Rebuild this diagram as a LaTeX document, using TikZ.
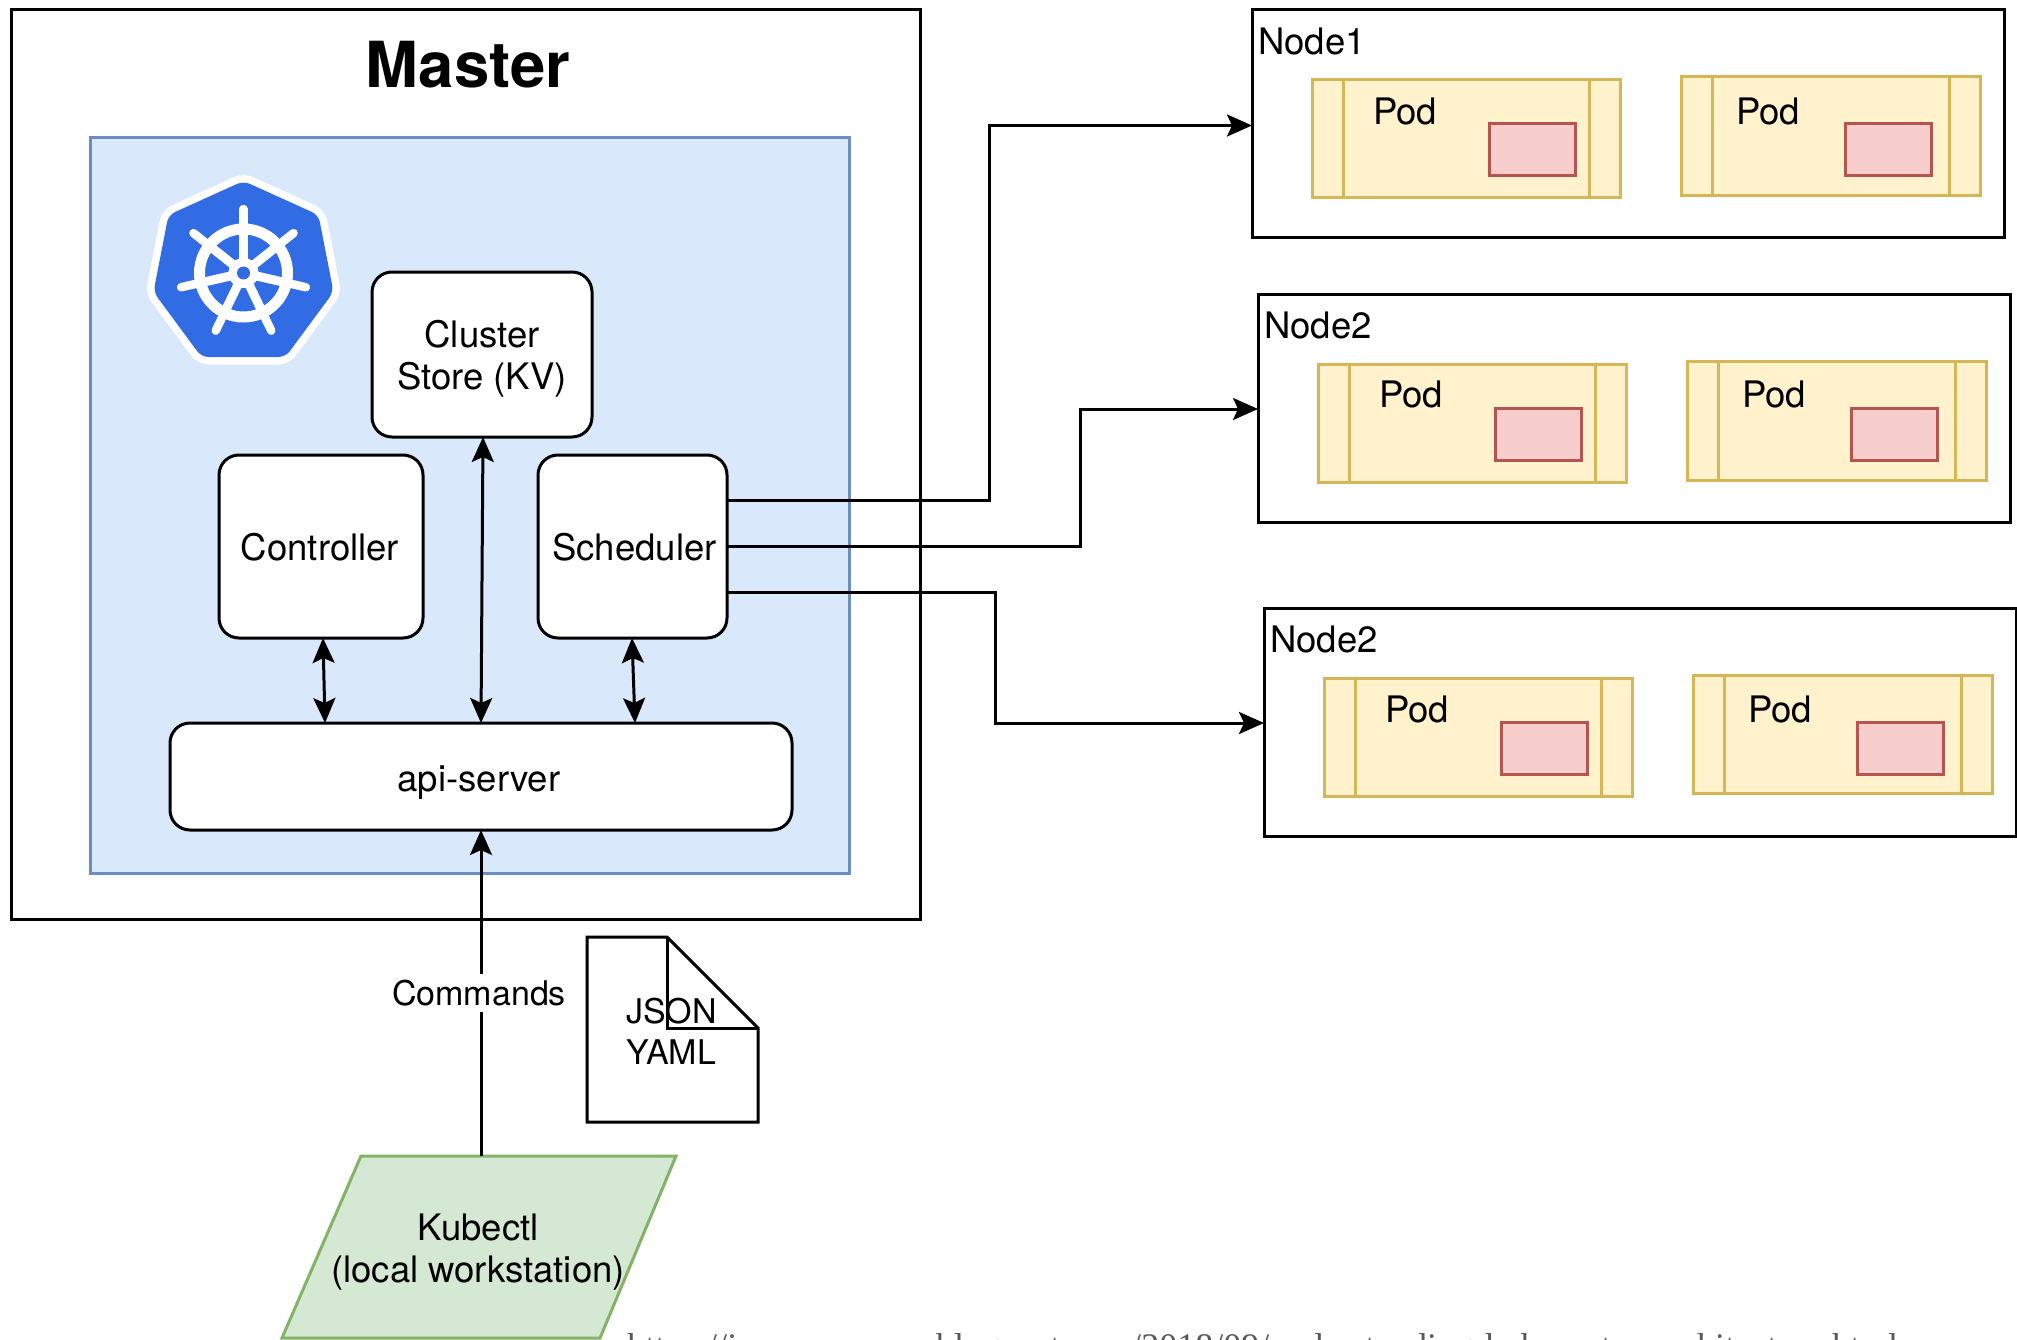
\documentclass[tikz,border=0pt]{standalone}
\usepackage{fontspec}
\setmainfont{TeX Gyre Heros}
\newfontfamily\urlfont{Liberation Serif}
\usetikzlibrary{arrows.meta}
\definecolor{bluefill}{HTML}{DAE8FC}
\definecolor{blueline}{HTML}{6C8EBF}
\definecolor{yelfill}{HTML}{FFF2CC}
\definecolor{yelline}{HTML}{D6B656}
\definecolor{redfill}{HTML}{F8CECC}
\definecolor{redline}{HTML}{B85450}
\definecolor{grnfill}{HTML}{D5E8D4}
\definecolor{grnline}{HTML}{82B366}
\definecolor{kblue}{HTML}{326CE5}
\tikzset{
  x=1pt,y=-1pt,
  lbl/.style={font=\fontsize{36.5}{42.5}\selectfont,align=center,text=black},
  small/.style={font=\fontsize{34}{40.5}\selectfont},
  rbox/.style={draw=black,line width=3pt,fill=white,rounded corners=20pt,lbl,outer sep=0pt,inner sep=0pt,anchor=north west},
  outer/.style={draw=black,line width=3pt,fill=white,outer sep=0pt,inner sep=0pt,anchor=north west},
  conn/.style={draw=black,line width=3pt},
  tip/.style={-{Stealth[length=25pt,width=22pt,inset=5pt]}},
  tips/.style={{Stealth[length=25pt,width=22pt,inset=5pt]}-{Stealth[length=25pt,width=22pt,inset=5pt]}},
  podbox/.style={draw=yelline,line width=3pt,fill=yelfill},
  ctr/.style={draw=redline,line width=3pt,fill=redfill,outer sep=0pt,inner sep=0pt,anchor=north west,minimum width=86pt,minimum height=52pt},
  plain/.style={lbl,inner sep=0pt},
}
\newcommand{\boxat}[5]{% name, x0,y0,x1,y1
  \node[outer,minimum width=#4pt-#2pt,minimum height=#5pt-#3pt] (#1) at (#2,#3) {};}
\newcommand{\pod}[9]{% name x0 y0 x1 y1 textx texty cx cy (container top-left)
  \draw[podbox] (#2,#3) rectangle (#4,#5);
  \draw[podbox] (#2+31,#3) -- (#2+31,#5) (#4-31,#3) -- (#4-31,#5);
  \node[plain] (#1t) at (#6,#7) {Pod};
  \node[ctr] (#1c) at (#8,#9) {};
}
\begin{document}
\begin{tikzpicture}
\useasboundingbox (0,0) rectangle (2017,1340);
\fill[white] (0,0) rectangle (2017,1340);
% Master
\boxat{master}{11}{10}{920}{919}
\node[plain,font=\fontsize{63.5}{70}\selectfont\bfseries] (mastert) at (468,65) {Master};
\node[draw=blueline,line width=3pt,fill=bluefill,minimum width=759pt,minimum height=736pt,inner sep=0pt,outer sep=0pt,anchor=north west] (blue) at (90,137.5) {};
% logo
\begin{scope}[shift={(243.5,273)}]
  \def\hep{(0,-92) -- (75,-58) -- (90,19) -- (42,84) -- (-42,84) -- (-90,19) -- (-75,-58) -- cycle}
  \draw[white,line width=15pt,line join=round,fill=white,rounded corners=7pt] \hep;
  \fill[kblue,rounded corners=7pt] \hep;
  \draw[white,line width=11pt] (0,0) circle (44);
  \foreach \a in {-90,-38.57,12.86,64.29,115.71,167.14,218.57}{
    \draw[white,line width=9pt] (\a:8) -- (\a:46);
    \draw[white,line width=8.5pt,line cap=round] (\a:46) -- (\a:64);
  }
  \fill[white] (0,0) circle (15);
  \fill[kblue] (0,0) circle (6.5);
\end{scope}
% inner boxes
\node[rbox,minimum width=220pt,minimum height=165pt] (store) at (372,272) {\rule{0pt}{36pt}Cluster\\Store (KV)};
\node[rbox,minimum width=204pt,minimum height=183pt] (ctrl) at (219,455) {\rule{0pt}{28pt}Controller\hspace*{2pt}};
\node[rbox,minimum width=189pt,minimum height=183pt] (sched) at (538,455) {\rule{0pt}{28pt}\hspace*{4pt}Scheduler};
\node[rbox,minimum width=622pt,minimum height=107pt] (api) at (170,723) {\rule{0pt}{38pt}api-server\hspace*{4pt}};
% bidirectional links
\coordinate (c1a) at (323,638); \coordinate (c1b) at (325,723);
\coordinate (c2a) at (483,437); \coordinate (c2b) at (481,723);
\coordinate (c3a) at (632,638); \coordinate (c3b) at (635,723);
\draw[conn,tips] (c1a) -- (c1b);
\draw[conn,tips] (c2a) -- (c2b);
\draw[conn,tips] (c3a) -- (c3b);
% Nodes
\boxat{n1}{1252}{10}{2004}{238}
\boxat{n2}{1258}{294}{2010}{522}
\boxat{n3}{1264}{608}{2016}{836}
\node[plain,anchor=west] (n1t) at (1258,41) {Node1};
\node[plain,anchor=west] (n2t) at (1264,325) {Node2};
\node[plain,anchor=west] (n3t) at (1270,639) {Node2};
\pod{p1a}{1312}{80}{1620}{198}{1405}{111}{1489}{124}
\pod{p1b}{1681}{77}{1980}{196}{1768}{111}{1845}{124}
\pod{p2a}{1318}{364}{1626}{482}{1411}{394}{1495}{408}
\pod{p2b}{1687}{361}{1986}{480}{1774}{394}{1851}{408}
\pod{p3a}{1324}{678}{1632}{796}{1417}{709}{1501}{722}
\pod{p3b}{1693}{675}{1992}{793}{1780}{709}{1857}{722}
% Scheduler links
\coordinate (s1) at (727,500); \coordinate (s2) at (727,546); \coordinate (s3) at (727,592);
\draw[conn,tip] (s1) -- (989,500) -- (989,125.5) -- (n1.west |- 0,125.5);
\draw[conn,tip] (s2) -- (1080,546) -- (1080,409) -- (n2.west |- 0,409);
\draw[conn,tip] (s3) -- (995,592) -- (995,723) -- (n3.west |- 0,723);
% Kubectl
\coordinate (kb) at (481,1156);
\fill[grnfill] (361,1156) -- (676,1156) -- (600,1338) -- (282,1338) -- cycle;
\draw[grnline,line width=3pt] (361,1156) -- (676,1156) -- (600,1338) -- (282,1338) -- cycle;
\node[plain] (kt) at (478,1252) {Kubectl\\(local workstation)};
\draw[conn,tip] (kb) -- (api.south -| kb);
\node[plain,small,fill=white,inner ysep=6pt,inner xsep=0pt] (cmd) at (479,993) {Commands};
% Doc
\draw[conn,fill=white] (587,937) -- (667,937) -- (758,1028) -- (758,1122) -- (587,1122) -- cycle;
\draw[conn] (667,937) -- (667,1028) -- (758,1028);
\node[plain,small,anchor=west] (doc) at (626,1031.5) {JSON\\YAML};
% URL cut off by the page edge: only the tops of its letters show, so the
% letters below the ascender line of the host name are not legible in the source.
\node[anchor=base west,inner sep=0pt,font=\urlfont\fontsize{36}{40}\selectfont,text=black!65] (url) at (627,1358) {https://insomnnmaaa.blogspot.com/2018/09/understanding-kubernetes-architecture.html};
\end{tikzpicture}
\end{document}
